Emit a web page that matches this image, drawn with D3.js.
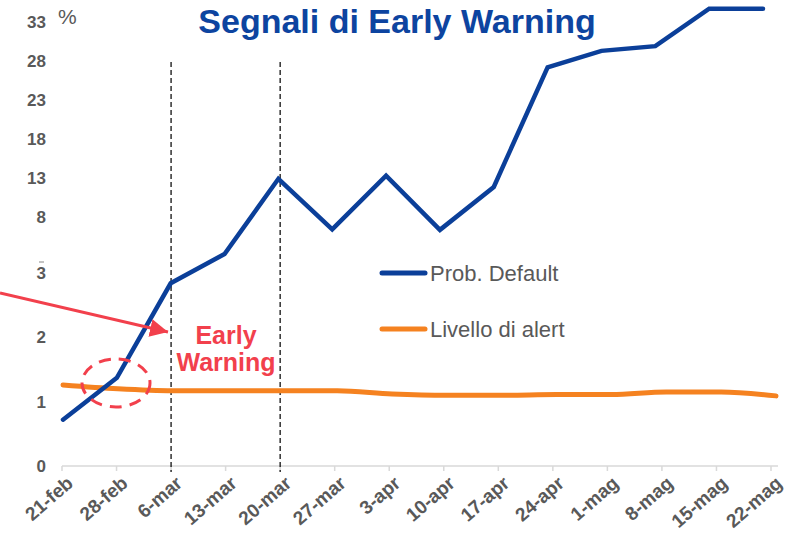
<!DOCTYPE html>
<html><head><meta charset="utf-8">
<script src="https://cdn.jsdelivr.net/npm/d3@7"></script>
<style>body{margin:0;background:#fff}svg{display:block;font-family:"Liberation Sans",Arial,sans-serif}</style>
</head><body><svg id="c" width="790" height="534"></svg>
<script>
const categories = ["21-feb","28-feb","6-mar","13-mar","20-mar","27-mar","3-apr","10-apr","17-apr","24-apr","1-mag","8-mag","15-mag","22-mag"];
const probDefault = [0.72,1.37,2.84,4.7,12.9,6.9,13.3,6.85,11.85,27.2,29.3,29.9,34.7,34.7];
const livelloAlert = [1.26,1.2,1.17,1.17,1.17,1.17,1.12,1.1,1.1,1.11,1.11,1.15,1.15,1.09];
const yTicks = [0,1,2,3,8,13,18,23,28,33];
const warningDates = ["6-mar","20-mar"];

const svg = d3.select("#c");
const gray = "#595959";
const y = d3.scaleLinear().domain([0,3,8,33]).range([466,273,217,22]);
const xAxisScale = d3.scalePoint().domain(categories).range([62,771]);
const xBlue = d3.scalePoint().domain(categories).range([63,763]);
const xOrange = d3.scalePoint().domain(categories).range([63,776]);

// title
svg.append("text").attr("x",397).attr("y",33).attr("text-anchor","middle")
  .attr("font-size",34).attr("font-weight","bold").attr("fill","#0d44a0").text("Segnali di Early Warning");

// x axis
const ax = svg.append("g").attr("transform","translate(0,466)");
ax.append("line").attr("x1",62).attr("x2",778).attr("y1",0).attr("y2",0).attr("stroke","#d9d9d9").attr("stroke-width",1.5);
ax.selectAll(".tk").data(categories).enter().append("line")
  .attr("x1",d=>xAxisScale(d)).attr("x2",d=>xAxisScale(d)).attr("y1",0).attr("y2",5)
  .attr("stroke","#d9d9d9").attr("stroke-width",1.5);
ax.selectAll(".lb").data(categories).enter().append("text")
  .attr("transform",d=>`translate(${xAxisScale(d)+8},${14}) rotate(-41)`)
  .attr("text-anchor","end").attr("font-size",19).attr("font-weight","bold").attr("fill",gray)
  .attr("dy","0.35em").text(d=>d);

// y labels
svg.selectAll(".yl").data(yTicks).enter().append("text")
  .attr("x",46).attr("y",d=>y(d)).attr("dy","0.36em").attr("text-anchor","end")
  .attr("font-size",17).attr("font-weight","bold").attr("fill",gray).text(d=>d);
svg.append("line").attr("x1",39).attr("x2",44).attr("y1",262).attr("y2",262).attr("stroke","#888").attr("stroke-width",1);
svg.append("text").attr("x",58).attr("y",24).attr("font-size",21).attr("fill",gray).text("%");

// warning dashed lines
svg.selectAll(".wl").data(warningDates).enter().append("line")
  .attr("x1",d=>xAxisScale(d)).attr("x2",d=>xAxisScale(d)).attr("y1",62).attr("y2",472)
  .attr("stroke","#111").attr("stroke-width",1.3).attr("stroke-dasharray","5,3");

// lines
const lineB = d3.line().x((d,i)=>xBlue(categories[i])).y(d=>y(d));
const lineO = d3.line().x((d,i)=>xOrange(categories[i])).y(d=>y(d)).curve(d3.curveMonotoneX);
svg.append("path").attr("d",lineO(livelloAlert)).attr("fill","none").attr("stroke","#f58220").attr("stroke-width",5).attr("stroke-linecap","round");
svg.append("path").attr("d",lineB(probDefault)).attr("fill","none").attr("stroke","#0b3f99").attr("stroke-width",4.5).attr("stroke-linecap","round").attr("stroke-linejoin","miter");

// legend
const leg = [{t:"Prob. Default",c:"#0b3f99",y:273},{t:"Livello di alert",c:"#f58220",y:329}];
leg.forEach(l=>{
  svg.append("line").attr("x1",382).attr("x2",425).attr("y1",l.y).attr("y2",l.y).attr("stroke",l.c).attr("stroke-width",5).attr("stroke-linecap","round");
  svg.append("text").attr("x",430).attr("y",l.y+8).attr("font-size",22).attr("fill",gray).text(l.t);
});

// annotations
const red = "#f2404c";
svg.append("defs").append("marker").attr("id","ah").attr("viewBox","0 0 10 10").attr("refX",10).attr("refY",5)
  .attr("markerWidth",6).attr("markerHeight",6).attr("orient","auto")
  .append("path").attr("d","M0,0L10,5L0,10Z").attr("fill",red);
svg.append("line").attr("x1",0).attr("y1",293).attr("x2",168).attr("y2",332).attr("stroke",red).attr("stroke-width",3).attr("marker-end","url(#ah)");
svg.append("ellipse").attr("cx",116).attr("cy",383).attr("rx",34).attr("ry",24).attr("fill","none")
  .attr("stroke",red).attr("stroke-width",3).attr("stroke-dasharray","12,8");
const ew = svg.append("text").attr("text-anchor","middle").attr("font-size",25).attr("font-weight","bold").attr("fill",red);
ew.append("tspan").attr("x",226).attr("y",344).text("Early");
ew.append("tspan").attr("x",226).attr("y",371).text("Warning");
</script></body></html>
